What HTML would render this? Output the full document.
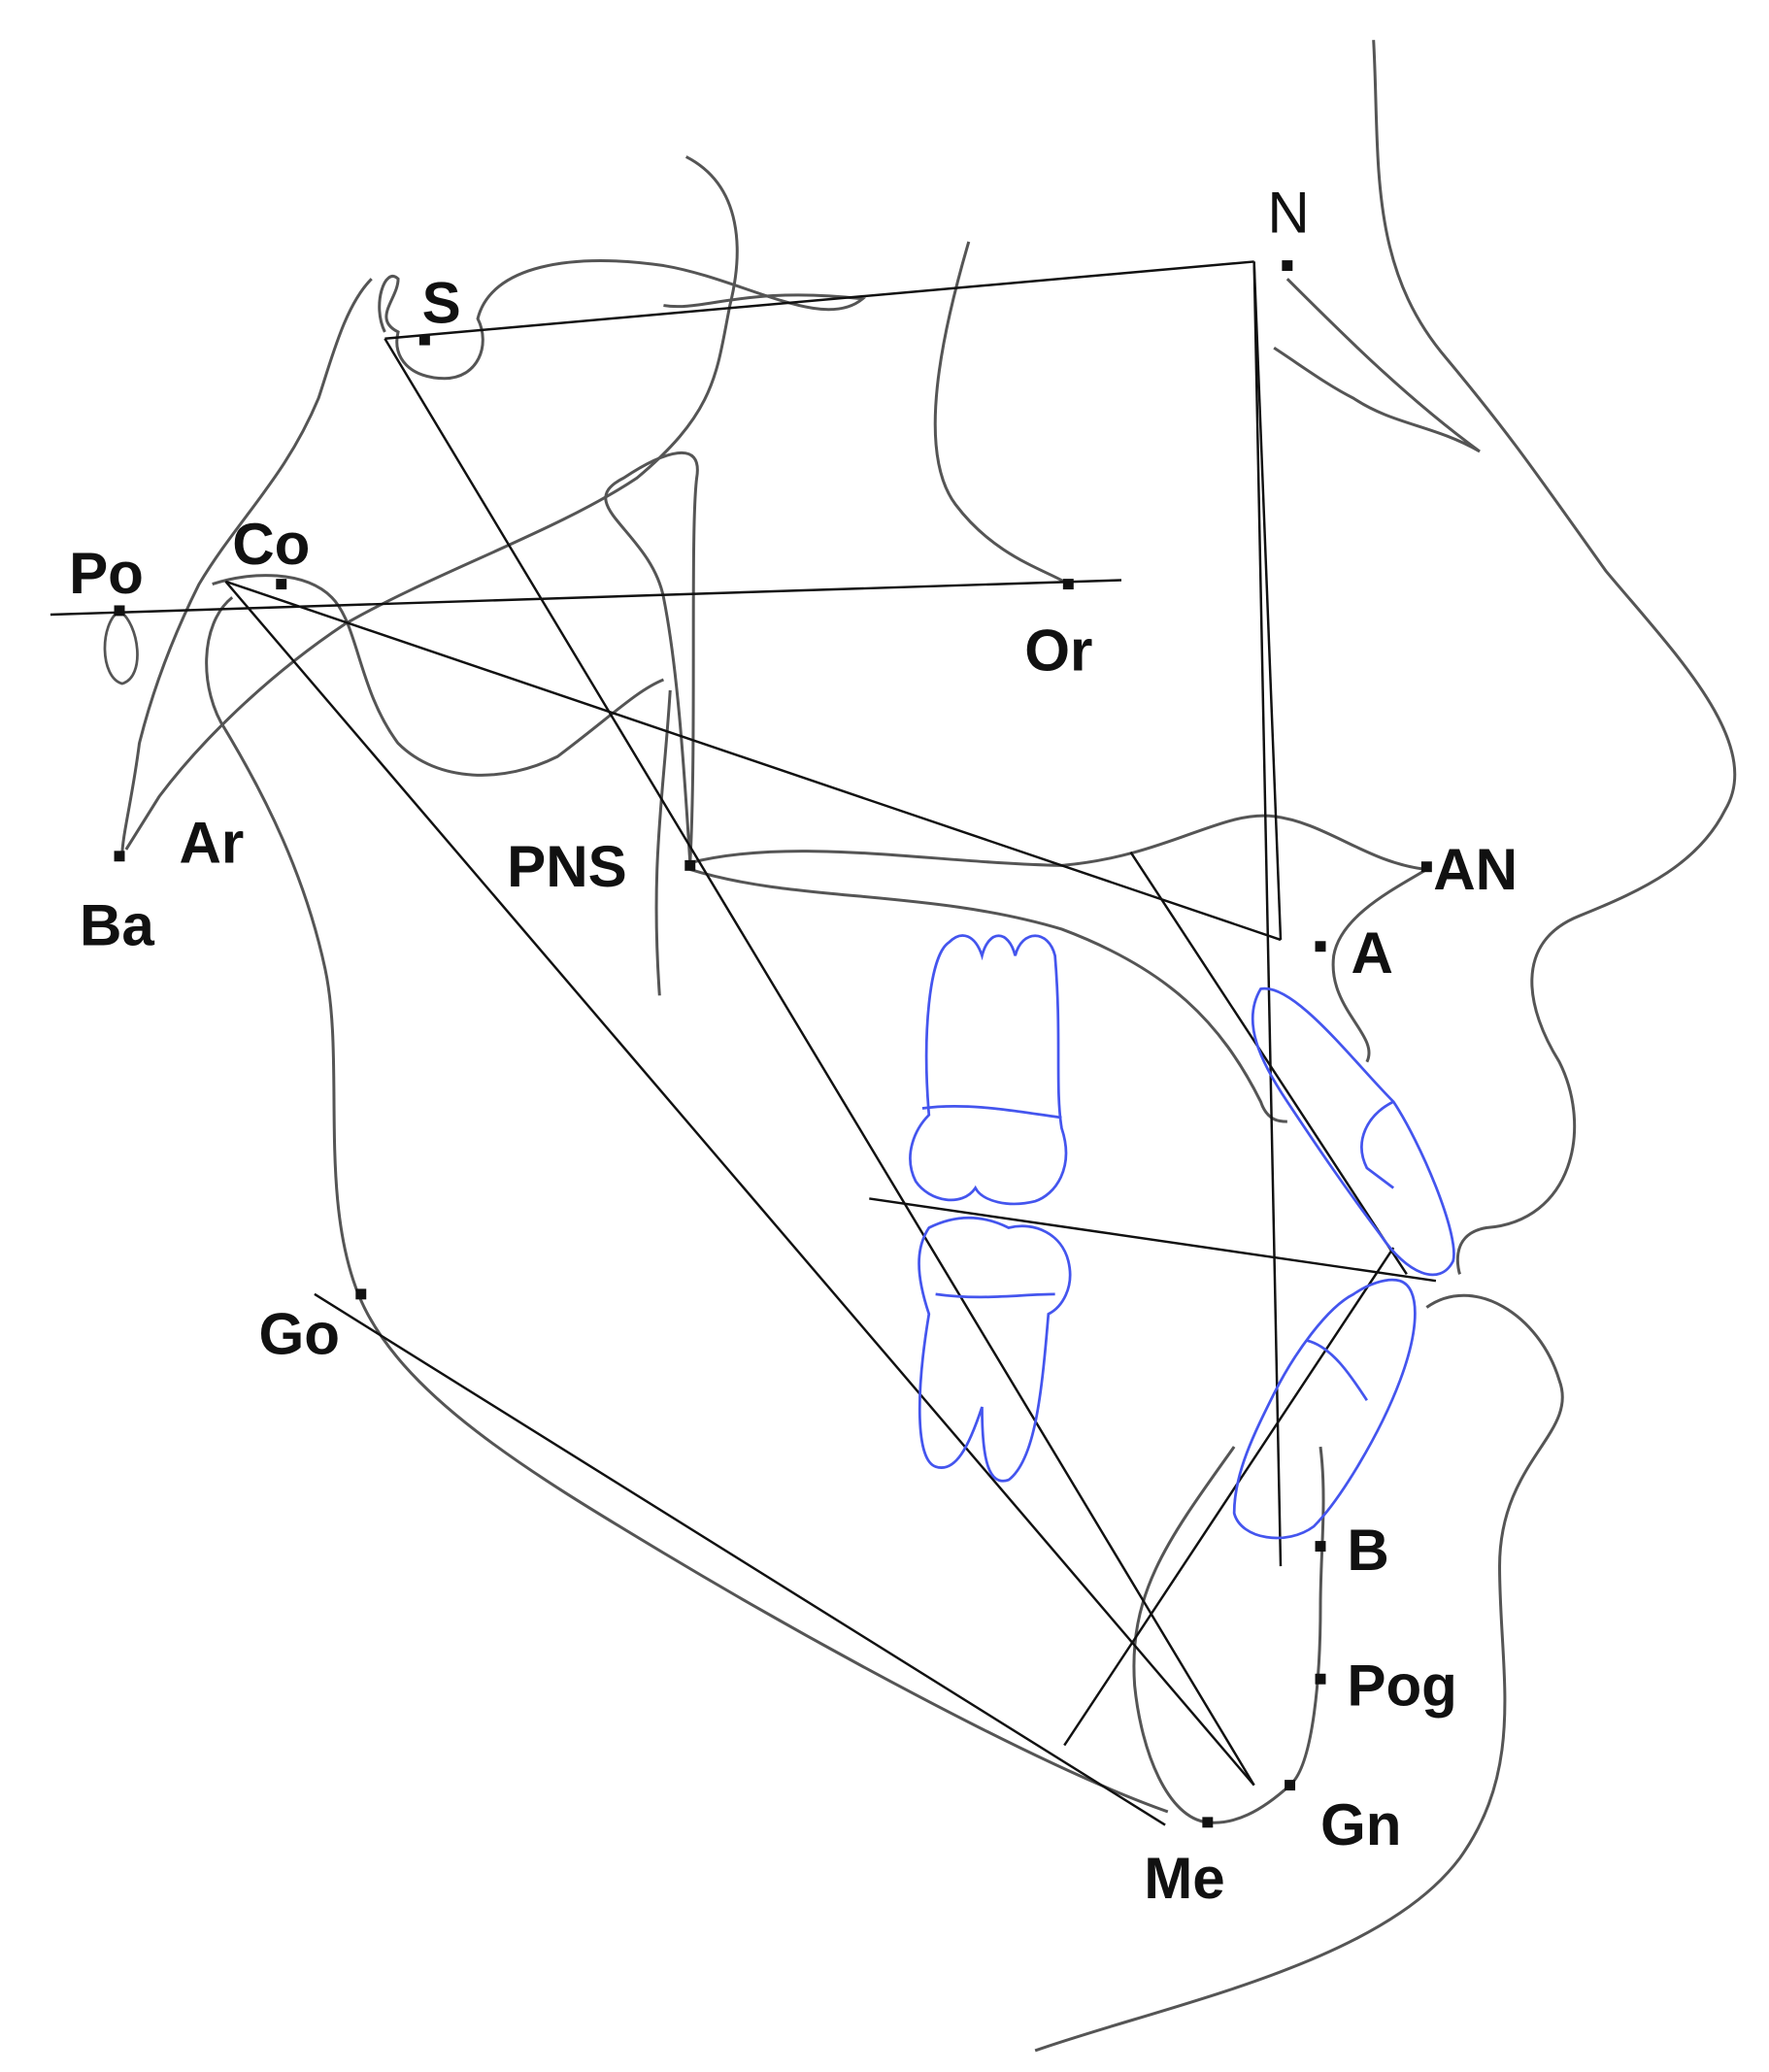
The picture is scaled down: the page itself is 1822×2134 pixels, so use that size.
<!DOCTYPE html>
<html><head><meta charset="utf-8"><style>
html,body{margin:0;padding:0;background:#fff}
svg{display:block}
text{font-family:"Liberation Sans",Arial,sans-serif;font-weight:bold;font-size:44px;fill:#111}
</style></head><body>
<svg width="1822" height="2134" viewBox="0 0 1333 1561" xmlns="http://www.w3.org/2000/svg">
<g fill="none" stroke="#555" stroke-width="2.2">
<!-- soft tissue profile -->
<path d="M1035,30 C1040,120 1030,200 1090,270 C1140,330 1160,360 1210,430 C1260,490 1330,560 1300,610 C1280,650 1240,670 1190,690 C1140,710 1150,760 1175,800 C1200,850 1185,920 1120,925 C1090,930 1100,960 1100,960"/>
<path d="M1075,985 C1110,960 1160,990 1175,1040 C1190,1080 1130,1100 1130,1180 C1130,1260 1150,1330 1100,1400 C1040,1480 880,1510 780,1545"/>
<!-- nasal bone -->
<path d="M970,210 C1010,250 1060,300 1115,340 C1080,320 1050,320 1020,300 C1000,290 980,275 960,262"/>
<!-- cranial base / sella -->
<path d="M290,250 C280,230 290,200 300,210 C300,225 280,240 300,250 C295,270 310,285 335,285 C360,285 370,260 360,240 C370,200 430,190 500,200 C560,210 620,250 650,225 C560,215 530,235 500,230"/>
<path d="M517,118 C560,140 560,190 550,230 C540,280 540,310 480,360 C420,400 330,430 260,470 C200,510 150,560 120,600 L95,640"/>
<path d="M280,210 C260,230 250,270 240,300 C215,360 180,390 150,440 C130,480 115,520 105,560 C100,600 92,630 92,645"/>
<!-- orbit -->
<path d="M730,182 C710,250 690,340 720,380 C750,420 790,430 805,440"/>
<!-- pterygomaxillary -->
<path d="M520,650 C515,570 510,500 500,450 C490,400 430,380 470,360 C500,340 530,330 525,360 C520,400 525,560 520,650"/>
<path d="M505,520 C500,600 490,650 497,750"/>
<!-- condyle / ramus -->
<path d="M160,440 C190,430 230,430 250,450 C270,470 270,520 300,560 C330,590 380,590 420,570 C460,540 480,520 500,512"/>
<path d="M175,450 C150,470 150,520 170,550 C200,600 230,660 245,730 C260,800 240,900 270,975 C300,1050 400,1110 500,1170 C600,1230 780,1330 880,1365"/>
<!-- palate -->
<path d="M520,650 C600,630 700,650 800,652 C880,645 920,610 960,615 C1000,620 1030,650 1075,655 C1050,670 1010,690 1005,720 C1000,760 1040,780 1030,800"/>
<path d="M520,655 C600,680 700,670 800,700 C880,730 920,770 950,830 C955,845 965,845 970,845"/>
<!-- symphysis -->
<path d="M995,1090 C1000,1130 995,1170 995,1210 C995,1260 990,1330 972,1345 C950,1365 930,1375 910,1373 C880,1370 860,1320 855,1270 C850,1200 880,1160 930,1090"/>
</g>
<g fill="none" stroke="#111" stroke-width="1.8">
<line x1="290" y1="255" x2="945" y2="197"/>
<line x1="945" y1="197" x2="965" y2="1180"/>
<line x1="945" y1="197" x2="965" y2="708"/>
<line x1="170" y1="438" x2="965" y2="708"/>
<line x1="290" y1="255" x2="945" y2="1345"/>
<line x1="170" y1="438" x2="945" y2="1345"/>
<line x1="38" y1="463" x2="845" y2="437"/>
<line x1="237" y1="975" x2="878" y2="1375"/>
<line x1="655" y1="903" x2="1082" y2="965"/>
<line x1="802" y1="1315" x2="1050" y2="940"/>
<line x1="852" y1="642" x2="1060" y2="960"/>
</g>
<!-- Po ear -->
<path d="M90,460 C75,470 75,510 92,515 C110,510 105,470 90,460" fill="none" stroke="#555" stroke-width="2"/>
<!-- teeth -->
<g fill="none" stroke="#4455ee" stroke-width="2">
<path d="M700,840 C695,780 700,720 715,710 C725,700 735,705 740,720 C745,700 760,700 765,720 C770,700 790,700 795,720 C800,780 795,820 800,850 C810,880 795,900 780,905 C760,910 740,905 735,895 C725,910 700,905 690,890 C680,870 690,850 700,840Z"/>
<path d="M695,835 C730,830 770,838 800,842"/>
<path d="M700,925 C720,915 740,915 760,925 C780,920 800,930 805,950 C810,970 800,985 790,990 C785,1050 780,1100 760,1115 C745,1120 740,1100 740,1060 C730,1090 720,1110 705,1105 C690,1100 690,1050 700,990 C690,960 690,940 700,925Z"/>
<path d="M705,975 C740,980 770,975 795,975"/>
<path d="M950,745 C975,740 1020,800 1050,830 C1070,860 1100,930 1095,950 C1085,970 1060,960 1040,930 C1010,890 990,860 970,830 C950,800 935,770 950,745Z"/>
<path d="M1050,830 C1030,840 1020,860 1030,880 L1050,895"/>
<path d="M1055,965 C1070,970 1070,1000 1055,1040 C1040,1080 1010,1130 990,1150 C970,1165 935,1160 930,1140 C930,1110 945,1080 960,1050 C975,1020 1000,985 1020,975 C1030,968 1045,962 1055,965Z"/>
<path d="M985,1010 C1005,1015 1020,1040 1030,1055"/>
</g>
<!-- points -->
<g fill="#111">
<rect x="316" y="252" width="8" height="8"/>
<rect x="966" y="196" width="8" height="8"/>
<rect x="86" y="456" width="8" height="8"/>
<rect x="208" y="436" width="8" height="8"/>
<rect x="801" y="436" width="8" height="8"/>
<rect x="86" y="641" width="8" height="8"/>
<rect x="516" y="648" width="8" height="8"/>
<rect x="1071" y="649" width="8" height="8"/>
<rect x="991" y="709" width="8" height="8"/>
<rect x="268" y="971" width="8" height="8"/>
<rect x="991" y="1161" width="8" height="8"/>
<rect x="991" y="1261" width="8" height="8"/>
<rect x="968" y="1341" width="8" height="8"/>
<rect x="906" y="1369" width="8" height="8"/>
</g>
<text x="318" y="243">S</text>
<text x="955" y="175" style="font-weight:normal">N</text>
<text x="52" y="447">Po</text>
<text x="175" y="425">Co</text>
<text x="772" y="505">Or</text>
<text x="135" y="650">Ar</text>
<text x="60" y="712">Ba</text>
<text x="382" y="668">PNS</text>
<text x="1080" y="670">AN</text>
<text x="1018" y="733">A</text>
<text x="195" y="1020">Go</text>
<text x="1015" y="1183">B</text>
<text x="1015" y="1285">Pog</text>
<text x="995" y="1390">Gn</text>
<text x="862" y="1430">Me</text>
</svg>
</body></html>
